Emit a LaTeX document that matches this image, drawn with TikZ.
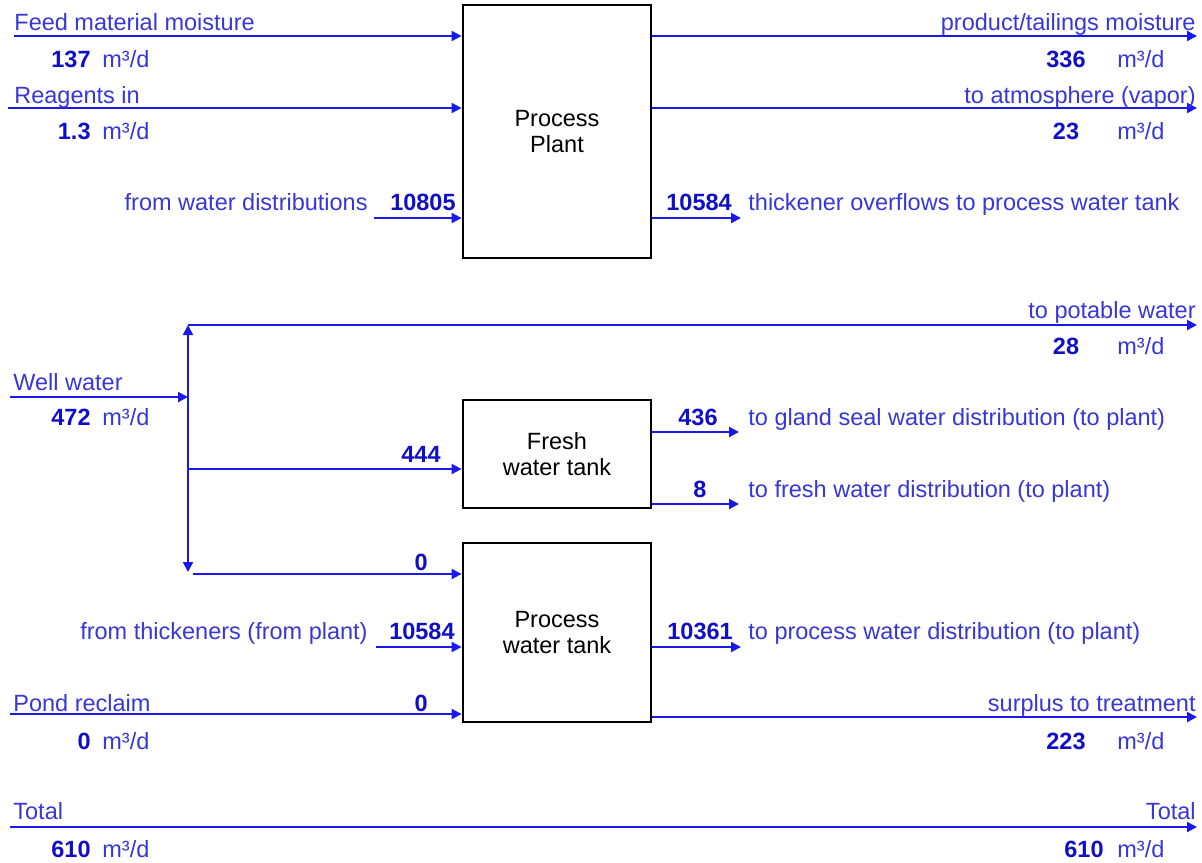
\documentclass[tikz,border=0pt]{standalone}
\usepackage{fontspec}
\setmainfont{Liberation Sans}
\usepackage{tikz}
\usetikzlibrary{arrows.meta,positioning}
\definecolor{flowblue}{RGB}{25,25,235}
\definecolor{labelblue}{RGB}{55,55,215}
\definecolor{numblue}{RGB}{15,15,200}

\begin{document}
\begin{tikzpicture}[x=0.5pt, y=-0.5pt,
  >={Triangle[length=5pt,width=5pt]},
  every node/.style={font=\fontsize{11.75}{13}\selectfont, inner sep=0pt},
  tank/.style={rectangle, draw=black, line width=1.4pt, fill=white,
    minimum width=94pt, align=center, text=black},
  lbl/.style={text=labelblue},
  num/.style={text=numblue, font=\fontsize{11.75}{13}\selectfont\bfseries},
  flow/.style={->, line width=1pt, color=flowblue}
]
\useasboundingbox (0,0) rectangle (1202,862);

\node[tank, minimum height=126.5pt] (plant) at (557,131.5) {Process\\Plant};
\node[tank, minimum height=54pt]    (fresh) at (557,454)   {Fresh\\water tank};
\node[tank, minimum height=89.5pt]  (pwt)   at (557,632.5) {Process\\water tank};

\coordinate (feed)  at (14,36);
\coordinate (reag)  at (8,108);
\coordinate (wdist) at (374,218);
\coordinate (prod)  at (1197,36);
\coordinate (atm)   at (1197,108);
\coordinate (thko)  at (741,218);
\coordinate (well)  at (10,397);
\coordinate (wtop)  at (188,325);
\coordinate (wbot)  at (188,572);
\coordinate (pot)   at (1197,325);
\coordinate (wmid)  at (188,469);
\coordinate (wlow)  at (193,574);
\coordinate (gland) at (739,432);
\coordinate (fdist) at (739,504);
\coordinate (thin)  at (376,647);
\coordinate (pdist) at (741,647);
\coordinate (pond)  at (10,714);
\coordinate (surp)  at (1197,717);
\coordinate (totl)  at (10,827);
\coordinate (totr)  at (1197,827);

\foreach \a in {feed,reag,wdist}
  {\draw[flow] (\a) -- (\a -| plant.west);}
\foreach \b in {prod,atm,thko}
  {\draw[flow] (\b -| plant.east) -- (\b);}
\draw[flow] (well) -- (well -| wtop);
\draw[flow, <->] (wtop) -- (wbot);
\draw[flow] (wtop) -- (pot);
\foreach \a/\t in {wmid/fresh,wlow/pwt,thin/pwt,pond/pwt}
  {\draw[flow] (\a) -- (\a -| \t.west);}
\foreach \b/\t in {gland/fresh,fdist/fresh,pdist/pwt,surp/pwt}
  {\draw[flow] (\b -| \t.east) -- (\b);}
\draw[flow] (totl) -- (totr);

\node[lbl, anchor=base west] (feedl)  at (14,30)  {Feed material moisture};
\node[lbl, anchor=base west] (reagl)  at (14,103) {Reagents in};
\node[lbl, anchor=base west] (welll)  at (13,390) {Well water};
\node[lbl, anchor=base west] (pondl)  at (13,711) {Pond reclaim};
\node[lbl, anchor=base west] (totll)  at (13,819) {Total};
\node[lbl, anchor=base east] (prodl)  at (1196,30)  {product/tailings moisture};
\node[lbl, anchor=base east] (atml)   at (1196,103) {to atmosphere (vapor)};
\node[lbl, anchor=base east] (potl)   at (1196,318) {to potable water};
\node[lbl, anchor=base east] (surpl)  at (1196,711) {surplus to treatment};
\node[lbl, anchor=base east] (totrl)  at (1196,819) {Total};

\foreach \n/\v/\y in {feedv/137/67,reagv/1.3/139,wellv/472/425,pondv/0/749,totlv/610/857}
  {\node[num, anchor=base east] (\n) at (91,\y) {\v};
   \node[lbl, anchor=base west] (u\n) at (102,\y) {m³/d};}
\foreach \n/\v/\y in {prodv/336/67,atmv/23/139,potv/28/354,surpv/223/749}
  {\node[num, anchor=base] (\n) at (1066,\y) {\v};
   \node[lbl, anchor=base west] (u\n) at (1117,\y) {m³/d};}
\node[num, anchor=base east] (totrv) at (1104,857) {610};
\node[lbl, anchor=base west] (utotrv) at (1117,857) {m³/d};

\node[lbl, anchor=base east] (wdistl)  at (368,210) {from water distributions};
\node[num, anchor=base east] (wdistv)  at (456,210) {10805};
\node[num, anchor=base west] (thkov)   at (666,210) {10584};
\node[lbl, anchor=base west] (thkol)   at (748,210) {thickener overflows to process water tank};
\node[num, anchor=base east] (wmidv)   at (441,462) {444};
\node[num, anchor=base east] (wlowv)   at (428,570) {0};
\node[num, anchor=base west] (glandv)  at (678,425) {436};
\node[lbl, anchor=base west] (glandl)  at (748,425) {to gland seal water distribution (to plant)};
\node[num, anchor=base]      (fdistv)  at (700,497) {8};
\node[lbl, anchor=base west] (fdistl)  at (748,497) {to fresh water distribution (to plant)};
\node[lbl, anchor=base east] (thinl)   at (368,639) {from thickeners (from plant)};
\node[num, anchor=base east] (thinv)   at (455,639) {10584};
\node[num, anchor=base west] (pdistv)  at (667,639) {10361};
\node[lbl, anchor=base west] (pdistl)  at (748,639) {to process water distribution (to plant)};
\node[num, anchor=base east] (pondv0)  at (428,711) {0};
\end{tikzpicture}
\end{document}
